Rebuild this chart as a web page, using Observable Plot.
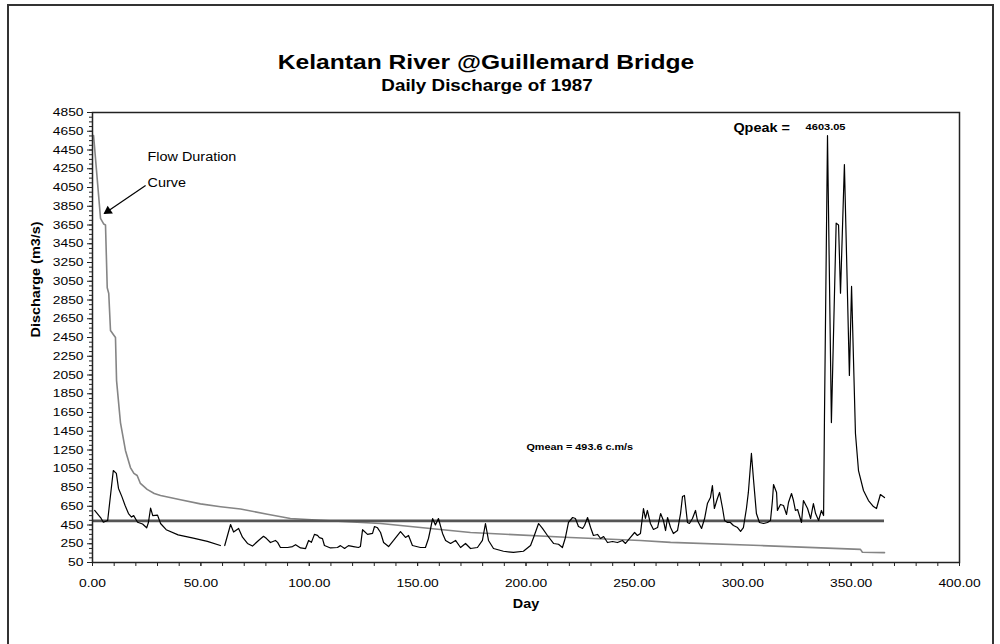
<!DOCTYPE html>
<html><head><meta charset="utf-8">
<script src="https://cdn.jsdelivr.net/npm/d3@7"></script>
<script src="https://cdn.jsdelivr.net/npm/@observablehq/plot@0.6"></script>
<style>
body{margin:0;background:#fff;font-family:"Liberation Sans",Arial,sans-serif;}
#page{position:relative;width:1000px;height:644px;overflow:hidden;background:#fff;}
#frame{position:absolute;left:7px;top:4px;width:987px;height:700px;border:2px solid #333;box-sizing:border-box;}
.t{position:absolute;white-space:nowrap;font-weight:bold;color:#000;}
#title{left:486px;top:62px;font-size:20.5px;transform:translate(-50%,-50%) scaleX(1.2);}
#subtitle{left:487px;top:86px;font-size:15.7px;transform:translate(-50%,-50%) scaleX(1.2);}
#chart{position:absolute;left:0;top:0;}
</style></head>
<body>
<div id="page">
  <div id="frame"></div>
  <div id="title" class="t">Kelantan River @Guillemard Bridge</div>
  <div id="subtitle" class="t">Daily Discharge of 1987</div>
  <div id="chart"></div>
</div>
<script>
// Daily discharge readings [day, m3/s]; null marks the missing day
const daily = [
[1,605],[4,520],[5,480],[7,498],[9.6,1031],[11,1000],[12,840],[13.6,750],[15,660],[16.6,572],[18,535],[19,550],[20.8,480],[23.1,460],[25,420],[25.8,477],[26.8,630],[27.8,550],[30,555],[31.4,466],[34,400],[39.5,345],[46.5,310],[53,275],[59,231],[60,null],
[61,231],[63.7,455],[65.1,375],[67.4,413],[69.2,320],[71.5,253],[73.8,225],[76.6,285],[78.9,330],[80.3,305],[82.1,263],[84.4,285],[85.4,265],[86.7,210],[90,210],[92.3,220],[93.7,240],[96,205],[98.3,199],[99.7,285],[101,265],[102.4,350],[103.8,340],[104.7,315],[106.1,305],[107,231],[109.8,205],[113,210],[114.4,230],[116.3,200],[118.1,230],[120.4,220],[122.7,210],[123.6,220],[124.6,400],[126.9,350],[129.2,360],[130.1,434],[131.5,420],[132.9,370],[134.3,263],[136.6,220],[138.9,285],[142.1,380],[144.4,317],[145.8,338],[147.6,231],[151.3,210],[153.6,210],[155,306],[155.9,402],[156.9,519],[158.2,450],[159.6,519],[161.5,360],[162.9,285],[165.2,253],[167.5,285],[169.8,210],[172.1,253],[174.4,199],[177.6,210],[179.9,285],[181.3,466],[182.7,285],[185,199],[189.6,170],[194.2,157],[198.8,170],
[202.1,231],[203.5,317],[205.8,466],[207.6,413],[209.9,338],[212.7,253],[215,245],[216.8,210],[218.2,317],[219.6,477],[221.5,530],[222.8,519],[224.2,434],[226.1,413],[227,445],[228.4,530],[229.8,423],[231.1,338],[233,349],[234.4,306],[235.8,327],[237.6,263],[239.9,274],[242.2,263],[244.5,285],[245.9,253],[248.2,317],[250.1,370],[251.4,338],[252.8,360],[254.2,626],[255.1,520],[256,605],[257.4,466],[258.8,402],[260.7,423],[262.1,572],[263.4,498],[264.4,391],[265.3,530],[266.7,423],[268,359],[269.9,391],[271.3,572],[272.2,754],[273.1,765],[274.5,477],[275.4,466],[276.8,519],[278.2,605],[279.1,498],[281,413],[282.4,519],[283.7,679],[285.1,743],[286,871],[286.9,626],[288.3,733],[289.3,797],[290.7,626],[291.6,498],[293,477],[294.3,477],[295.7,445],[297.6,423],[299,381],
[300.3,423],[301.7,626],[302.6,800],[304,1213],[305,925],[306.3,572],[307.7,477],[309.6,466],[311.4,477],[312.8,498],[313.7,711],[314.2,882],[315.6,797],[316,605],[317.4,669],[318.8,658],[320.2,562],[321.1,690],[322.5,786],[323.4,711],[324.3,605],[325.3,615],[327.1,477],[328,711],[329.9,626],[331.3,519],[332.6,679],[333.6,572],[335,498],[336.3,605],[337.3,551],[337.7,1597],[339.1,4603.05],[340.9,1543],[343.1,3670],[344.2,3650],[345.1,2923],[346.9,4295],[349.2,2045],[350.2,2995],[352,1426],[353.4,1031],[355.7,818],[358,711],[360.3,647],[361.7,626],[363.5,775],[365.4,743]
];
// Flow duration curve readings [rank (day), m3/s]
const flowDuration = [
[0.5,4603],[3.7,3720],[5.2,3660],[6,3650],[6.8,2980],[7.5,2920],[8.3,2525],[10.6,2450],[11.1,1990],[12.5,1640],[12.9,1543],[15.2,1245],[17.5,1063],[19.1,1000],[20.6,978],[22.1,893],[25.2,830],[28.5,786],[31.4,765],[40.6,720],[49.8,675],[59.1,645],[68.3,620],[80.7,565],[91.3,520],[111.2,493],[132.9,466],[142.1,445],[155.9,413],[174.4,370],[220.5,317],[252.8,285],[266.7,265],[308.2,231],[354.3,190],[355.2,160],[365.4,155]
];
const meanQ = 493.6;
const meanSpan = [0, 365.4];
const yTicks = d3.range(50, 4851, 200);
const yMinor = d3.range(50, 4851, 50);
const xTicks = d3.range(0, 401, 50);
const xMinor = d3.range(0, 401, 10);
// Annotations (data-space anchors)
const fdcLabel = [{x:25.4, y:4370, text:"Flow Duration"}, {x:25.4, y:4093, text:"Curve"}];
const fdcArrow = [{x1:24.5, y1:4071, x2:5.5, y2:3773}];
const peakLabel = [{x:295.7, y:4679, text:"Qpeak ="}];
const peakValue = [{x:329, y:4690, text:"4603.05"}];
const meanLabel = [{x:200.2, y:1277, text:"Qmean = 493.6 c.m/s"}];

const dailyData = daily.map(([d, q]) => ({day: d, q}));
const fdcData = flowDuration.map(([d, q]) => ({day: d, q}));

const chart = Plot.plot({
  width: 1000, height: 620,
  marginLeft: 92, marginRight: 41, marginTop: 112, marginBottom: 58,
  x: {domain: [0, 400]},
  y: {domain: [50, 4850]},
  style: {fontFamily: "Liberation Sans, Arial, sans-serif", fontSize: "11.5px", color: "#000", background: "transparent", overflow: "visible"},
  marks: [
    Plot.axisY({ticks: yMinor, tickSize: 3, tickFormat: () => "", label: null, stroke: "#222"}),
    Plot.axisY({ticks: yTicks, tickSize: 5, tickPadding: 4, tickFormat: d => String(d), label: null, stroke: "#222"}),
    Plot.axisX({ticks: xMinor, tickSize: 4, tickFormat: () => "", label: null, stroke: "#222"}),
    Plot.axisX({ticks: xTicks, tickSize: 4, tickPadding: 12, tickFormat: d => d.toFixed(2), label: null, stroke: "#222"}),
    Plot.line(fdcData, {x: "day", y: "q", stroke: "#858585", strokeWidth: 1.6}),
    Plot.ruleY([meanQ], {x1: meanSpan[0], x2: meanSpan[1], stroke: "#555", strokeWidth: 2.6}),
    Plot.line(dailyData, {x: "day", y: "q", stroke: "#000", strokeWidth: 1.2}),
    Plot.frame({stroke: "#222", strokeWidth: 1.5}),
    Plot.text(["Discharge (m3/s)"], {frameAnchor: "left", dx: -56, rotate: -90, text: d => d, fontWeight: "bold", fontSize: 12}),
    Plot.text(["Day"], {frameAnchor: "bottom", dy: 45, text: d => d, fontWeight: "bold", fontSize: 12}),
    Plot.text(fdcLabel, {x: "x", y: "y", text: "text", textAnchor: "start", fontSize: 12}),
    Plot.link(fdcArrow, {x1: "x1", y1: "y1", x2: "x2", y2: "y2", stroke: "#000", strokeWidth: 1.2}),
    Plot.dot(fdcArrow, {x: "x2", y: "y2", symbol: "triangle2", r: 4.5, rotate: -124, dx: 3.6, dy: -2.4, fill: "#000", stroke: "none"}),
    Plot.text(peakLabel, {x: "x", y: "y", text: "text", textAnchor: "start", fontWeight: "bold", fontSize: 12}),
    Plot.text(peakValue, {x: "x", y: "y", text: "text", textAnchor: "start", fontWeight: "bold", fontSize: 9.2}),
    Plot.text(meanLabel, {x: "x", y: "y", text: "text", textAnchor: "start", fontWeight: "bold", fontSize: 9})
  ]
});
document.getElementById("chart").append(chart);
chart.querySelectorAll("text").forEach(t => {
  const L = t.getComputedTextLength();
  if (L > 0) { t.setAttribute("textLength", (L * 1.2).toFixed(1)); t.setAttribute("lengthAdjust", "spacingAndGlyphs"); }
});
</script>
</body></html>
